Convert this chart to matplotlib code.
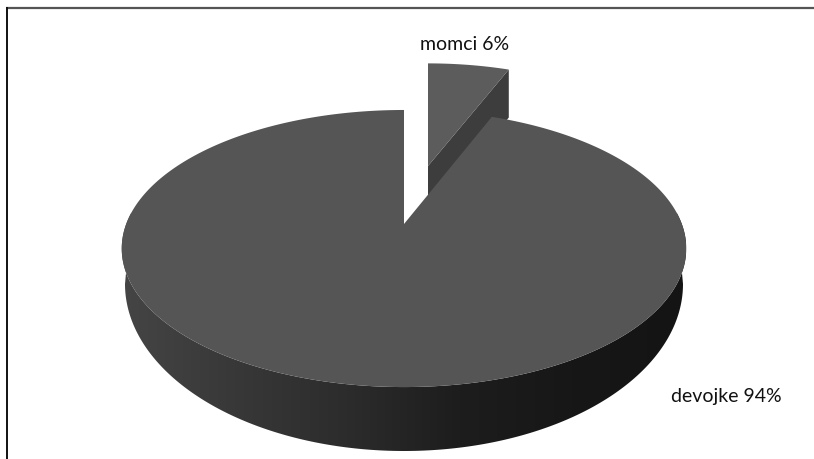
import numpy as np
import matplotlib
matplotlib.use('Agg')
import matplotlib.pyplot as plt
from matplotlib.colors import LinearSegmentedColormap
from matplotlib.patches import Polygon

labels = ['momci 6%', 'devojke 94%']
shares = [6, 94]

# perspective pie, everything in pixel coordinates of the figure
CX, CY = 404, 225
A, B, K = 277.8, 134.2, 0.177


def rim(theta, scale=1.0, cx=CX, cy=CY, sx=None):
    # theta in degrees, clockwise from the top
    t = np.radians(theta)
    w = 1 + K * np.cos(t)
    sx = scale if sx is None else sx
    x = cx + sx * A * np.sin(t) / w
    y = cy - scale * B * np.cos(t) / w
    return np.column_stack([x, y])


def lower_edge(theta):
    # bottom outline of the side wall
    t = np.radians(theta)
    return np.column_stack([CX + 279 * np.sin(t), 285 - 167 * np.cos(t)])


split = 360 * shares[0] / sum(shares)

fig = plt.figure(figsize=(8.14, 4.6), dpi=100)
ax = fig.add_axes([0, 0, 1, 1])
ax.set_xlim(0, 814)
ax.set_ylim(460, 0)
ax.axis('off')

# frame, only top and left edges
ax.plot([6, 814], [8.5, 8.5], color='#555555', lw=1.6, solid_capstyle='butt')
ax.plot([6.5, 6.5], [8, 460], color='#111111', lw=1.4, solid_capstyle='butt')

# pulled out slice
sl_angles = np.linspace(0, split, 30)
sl_top = rim(sl_angles, scale=0.9, sx=0.92, cx=428, cy=167)
corner = sl_top[-1]
face = [[428, 167], corner, corner + [0, 48], [428, 215]]
ax.add_patch(Polygon(face, closed=True, fc='#3d3d3d', ec='none', zorder=2))
ax.add_patch(Polygon(np.vstack([[[428, 167]], sl_top]), closed=True,
                     fc='#5c5c5c', ec='none', zorder=3))

# side wall of the big slice, shaded from left to right
wall_angles = np.linspace(85, 275, 200)
wall = np.vstack([rim(wall_angles), lower_edge(np.linspace(270, 90, 200))])
shade = LinearSegmentedColormap.from_list(
    'wall', ['#454545', '#383838', '#2c2c2c', '#1d1d1d', '#171717', '#141414'])
img = ax.imshow(np.linspace(0, 1, 256).reshape(1, -1), cmap=shade, aspect='auto',
                extent=[121, 686, 460, 0], zorder=4)
wall_patch = Polygon(wall, closed=True, transform=ax.transData, fc='none', ec='none')
ax.add_patch(wall_patch)
img.set_clip_path(wall_patch)

# top of the big slice
top_angles = np.linspace(split, 360, 400)
ax.add_patch(Polygon(np.vstack([[[CX, CY]], rim(top_angles)]), closed=True,
                     fc='#555555', ec='none', zorder=5))

font = ['Lato', 'DejaVu Sans']
ax.text(464.5, 44, labels[0], ha='center', va='center', fontsize=14,
        family=font, color='#111111')
ax.text(726, 397, labels[1], ha='center', va='center', fontsize=14,
        family=font, color='#111111')

ax.set_xlim(0, 814)
ax.set_ylim(460, 0)
fig.savefig('out.png', dpi=100, facecolor='white')
